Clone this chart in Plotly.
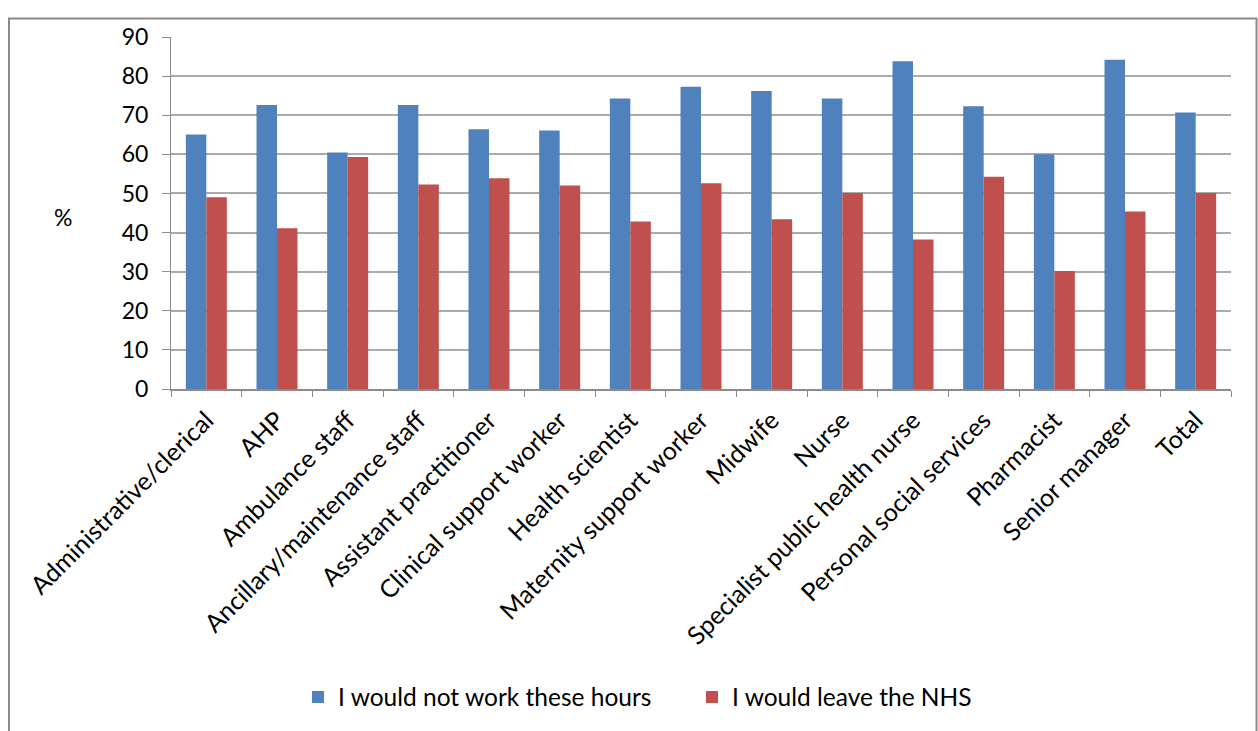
import plotly.graph_objects as go

categories = [
    "Administrative/clerical", "AHP", "Ambulance staff", "Ancillary/maintenance staff",
    "Assistant practitioner", "Clinical support worker", "Health scientist",
    "Maternity support worker", "Midwife", "Nurse", "Specialist public health nurse",
    "Personal social services", "Pharmacist", "Senior manager", "Total",
]
not_work_hours = [65.1, 72.6, 60.5, 72.6, 66.4, 66.1, 74.3, 77.3, 76.2, 74.3, 83.8, 72.3, 60.0, 84.2, 70.7]
leave_nhs = [49.0, 41.1, 59.3, 52.3, 53.9, 52.0, 42.8, 52.6, 43.4, 50.1, 38.2, 54.3, 30.2, 45.4, 50.1]
y_ticks = [0, 10, 20, 30, 40, 50, 60, 70, 80, 90]

FONT = "Lato, 'Open Sans', sans-serif"
W, H = 1258, 731
L, R, T, B = 171, 27, 37, 342
pw, ph = W - L - R, H - T - B

fig = go.Figure()
fig.add_trace(go.Bar(x=categories, y=not_work_hours, name="I would not work these hours",
                     marker=dict(color="#4F81BD", line=dict(width=0))))
fig.add_trace(go.Bar(x=categories, y=leave_nhs, name="I would leave the NHS",
                     marker=dict(color="#C0504D", line=dict(width=0))))

fig.update_layout(
    width=W, height=H,
    margin=dict(l=L, r=R, t=T, b=B, autoexpand=False),
    paper_bgcolor="white", plot_bgcolor="white",
    barmode="group", bargap=0.42, bargroupgap=0,
    font=dict(family=FONT, color="#000000"),
    showlegend=True,
    legend=dict(orientation="h", x=(298 - L) / pw, xanchor="left", y=(389 - 697) / ph, yanchor="middle",
                font=dict(size=24.5, family=FONT), itemwidth=30, traceorder="normal",
                entrywidth=349, entrywidthmode="pixels",
                bgcolor="rgba(0,0,0,0)"),
)
fig.update_yaxes(range=[0, 90], tickvals=y_ticks, showgrid=True, gridcolor="#ababab", gridwidth=1.5,
                 showline=True, linecolor="#8c8c8c", linewidth=1, ticks="outside", ticklen=8,
                 tickcolor="#8c8c8c", tickfont=dict(size=23, family=FONT), zeroline=False,
                 ticklabelstandoff=9)
fig.update_xaxes(showline=True, linecolor="#8c8c8c", linewidth=1.5, ticks="outside", ticklen=6,
                 tickcolor="#8c8c8c", tickson="boundaries", tickangle=-45,
                 tickfont=dict(size=25, family=FONT), showgrid=False, ticklabelstandoff=5)

fig.add_annotation(text="%", xref="paper", yref="paper", x=(63 - L) / pw, y=(389 - 217) / ph,
                   showarrow=False, font=dict(size=23, family=FONT), xanchor="center", yanchor="middle")

# outer chart border
fig.add_shape(type="rect", xref="paper", yref="paper",
              x0=(9 - L) / pw, x1=(1256.5 - L) / pw, y0=(389 - 740) / ph, y1=(389 - 18.5) / ph,
              line=dict(color="#8a8a8a", width=2), fillcolor="rgba(0,0,0,0)", layer="below")

fig.write_html("out.html")
